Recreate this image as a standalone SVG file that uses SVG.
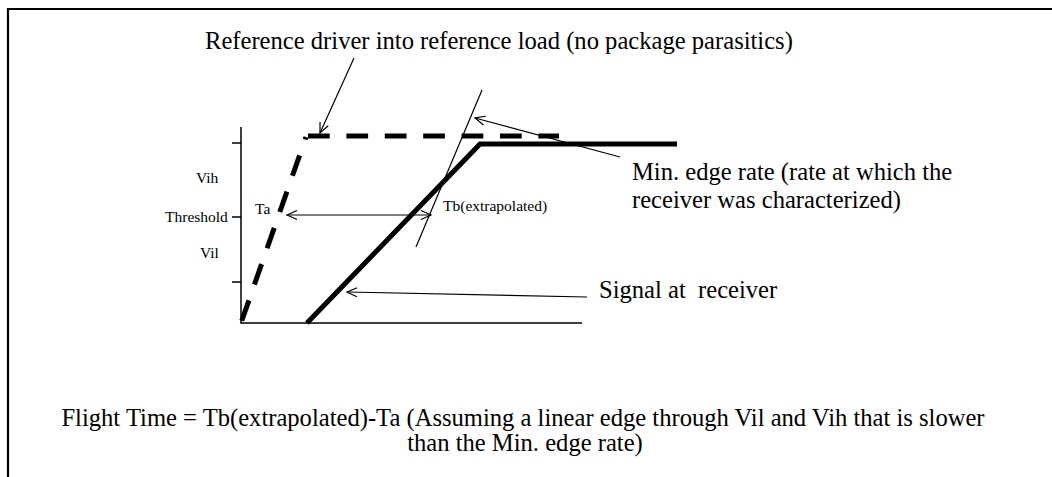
<svg xmlns="http://www.w3.org/2000/svg" width="1052" height="477" viewBox="0 0 1052 477">
<style>
text{font-family:"Liberation Serif","Times New Roman",serif;fill:#000}
.big{font-size:24.6px}
.sm{font-size:15.5px}
.thin{fill:none;stroke:#000;stroke-width:1.2}
.axis{fill:none;stroke:#000;stroke-width:1.5}
.thick{fill:none;stroke:#000;stroke-width:5}
.dash{fill:none;stroke:#000;stroke-width:5;stroke-dasharray:21.7 16.7}
</style>
<defs>
<marker id="arr" viewBox="-12 -6 14 12" refX="0" refY="0" markerWidth="14" markerHeight="12" markerUnits="userSpaceOnUse" orient="auto-start-reverse">
<path d="M-10,-4.5 L0,0 L-10,4.5" fill="none" stroke="#000" stroke-width="1.2"/>
</marker>
</defs>
<rect width="1052" height="477" fill="#fff"/>
<g id="frame">
<path d="M7,9 H1052 M8,9 V477" fill="none" stroke="#000" stroke-width="2.2"/>
</g>
<g id="axes">
<path class="axis" d="M241,127 V323 H582"/>
<path class="axis" d="M232,143 H241 M232,217 H241 M232,282 H241"/>
<text class="sm" x="196" y="183">Vih</text>
<text class="sm" x="165" y="222">Threshold</text>
<text class="sm" x="200" y="258">Vil</text>
</g>
<g id="driver">
<path class="dash" d="M306,137 L241,323" stroke-dashoffset="19"/>
<path class="dash" d="M308,136 H559"/>
</g>
<g id="receiver">
<path class="thick" d="M307,323 L480,144 H677" stroke-linejoin="miter"/>
</g>
<g id="tangent">
<path class="thin" d="M416,247 L482,90"/>
</g>
<g id="labels">
<text class="big" x="205" y="49">Reference driver into reference load (no package parasitics)</text>
<text class="sm" x="255" y="214">Ta</text>
<text class="sm" x="443" y="211">Tb(extrapolated)</text>
<text class="big" x="632" y="180">Min. edge rate (rate at which the</text>
<text class="big" x="632" y="208">receiver was characterized)</text>
<text class="big" x="599" y="298" xml:space="preserve">Signal at  receiver</text>
<text class="big" x="523" y="426" text-anchor="middle">Flight Time = Tb(extrapolated)-Ta (Assuming a linear edge through Vil and Vih that is slower</text>
<text class="big" x="525" y="451" text-anchor="middle">than the Min. edge rate)</text>
</g>
<g id="connectors">
<path class="thin" d="M354,58 L320,133" marker-end="url(#arr)"/>
<path class="thin" d="M287,215 H431" marker-start="url(#arr)" marker-end="url(#arr)"/>
<path class="thin" d="M620,157 L475,118" marker-end="url(#arr)"/>
<path class="thin" d="M587,297 L347,292" marker-end="url(#arr)"/>
</g>
</svg>
